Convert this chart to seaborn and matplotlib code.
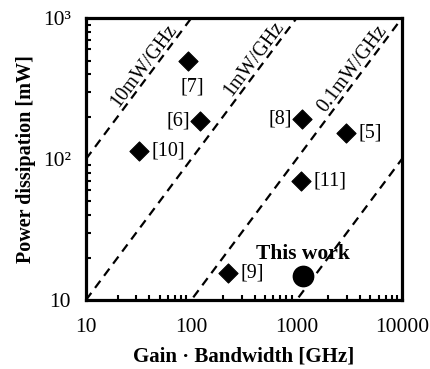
import numpy as np
import pandas as pd
import matplotlib
matplotlib.use("Agg")
import matplotlib.pyplot as plt
import seaborn as sns

# data
refs = ['[7]', '[6]', '[10]', '[8]', '[5]', '[11]', '[9]']
gbw = [93, 120, 32, 1120, 2950, 1100, 225]          # GHz
power = [500, 185, 114, 193, 152, 70, 15.5]          # mW
this_gbw = [1150]
this_power = [14.8]
fom = [10, 1, 0.1, 0.01]                             # mW/GHz
fom_labels = ['10mW/GHz', '1mW/GHz', '0.1mW/GHz', '']

df = pd.DataFrame({'ref': refs, 'gbw': gbw, 'power': power})

sns.set_style("white", {'text.color': 'black', 'axes.labelcolor': 'black',
                        'xtick.color': 'black', 'ytick.color': 'black'})
plt.rcParams['font.family'] = ['Liberation Serif', 'DejaVu Serif']
plt.rcParams['font.size'] = 15

fig = plt.figure(figsize=(4.31, 3.69), dpi=100)
ax = fig.add_axes([0.1995, 0.187, 0.733, 0.764])

# constant power/GHz lines
xl = np.array([10, 10000])
for k in fom:
    sns.lineplot(x=xl, y=k * xl, ax=ax, color='black', lw=1.6,
                 linestyle=(0, (4, 2.8)), zorder=1)

sns.scatterplot(data=df, x='gbw', y='power', marker='D', s=95,
                color='black', edgecolor='black', ax=ax, zorder=3)
sns.scatterplot(x=this_gbw, y=this_power, marker='o', s=210,
                color='black', edgecolor='black', ax=ax, zorder=3)

ax.set_xscale('log')
ax.set_yscale('log')
ax.set_xlim(10, 10000)
ax.set_ylim(10, 1000)

# line labels, rotated along the lines
ang = np.degrees(np.arctan2(0.764 * 3.69 / 2, 0.733 * 4.31 / 3))
lab_x = [42, 464, 4000]
for k, t, lx in zip(fom, fom_labels, lab_x):
    ax.text(lx, k * lx, t, rotation=ang, rotation_mode='anchor',
            ha='center', va='bottom', fontsize=14.5, color='black')

# reference labels
offs = {'[7]': (3, -19, 'center'), '[6]': (-7, 0, 'right'),
        '[10]': (9, 0, 'left'), '[8]': (-7, 0, 'right'),
        '[5]': (9, 0, 'left'), '[11]': (9, 0, 'left'),
        '[9]': (9, 0, 'left')}
for r, x, y in zip(refs, gbw, power):
    dx, dy, ha = offs[r]
    ax.annotate(r, (x, y), xytext=(dx, dy), textcoords='offset points',
                ha=ha, va='center', fontsize=14.5, color='black')
ax.annotate('This work', (this_gbw[0], this_power[0]), xytext=(0, 16),
            textcoords='offset points', ha='center', va='center',
            fontsize=15.5, fontweight='bold', color='black')

ax.set_xticks([10, 100, 1000, 10000])
ax.set_xticklabels(['10', '100', '1000', '10000'])
ax.set_yticks([10, 100, 1000])
ax.set_yticklabels(['10', '10²', '10³'])
ax.tick_params(axis='x', which='major', length=0, pad=13, labelsize=15.5,
               labelcolor='black')
ax.tick_params(axis='y', which='major', length=0, pad=11, labelsize=15.5,
               labelcolor='black')
ax.tick_params(which='minor', direction='in', length=3.5, width=1.5,
               color='black', bottom=True, left=True, top=False, right=False)
ax.xaxis.set_minor_formatter(matplotlib.ticker.NullFormatter())
ax.yaxis.set_minor_formatter(matplotlib.ticker.NullFormatter())

for sp in ax.spines.values():
    sp.set_linewidth(2.3)
    sp.set_color('black')

ax.set_xlabel('Gain · Bandwidth [GHz]', fontweight='bold', fontsize=15,
              labelpad=7, color='black')
ax.set_ylabel('Power dissipation [mW]', fontweight='bold', fontsize=14.5,
              labelpad=5, color='black')

fig.savefig('out.png', dpi=100)
